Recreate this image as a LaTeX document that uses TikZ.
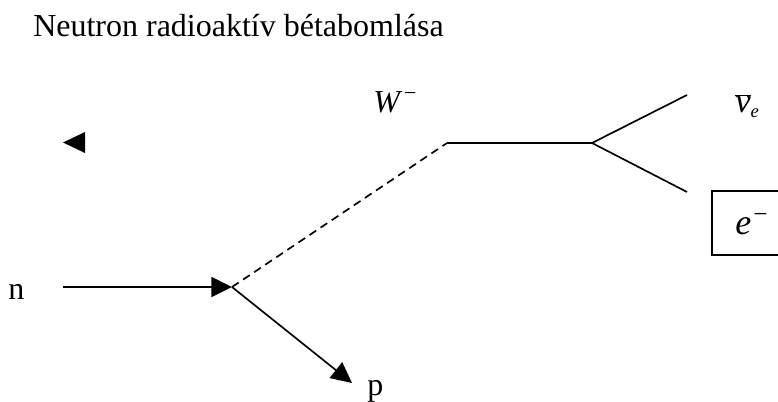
\documentclass[tikz,border=0pt]{standalone}
\usepackage{fontspec}
\setmainfont{Liberation Serif}
\usepackage{tikz}
\usetikzlibrary{arrows.meta, positioning}

\begin{document}
\begin{tikzpicture}[
            x=0.75pt, y=-0.75pt,
            felirat/.style={font=\fontsize{24}{28}\selectfont, inner sep=0pt, anchor=base west},
            reszecske/.style={font=\fontsize{24}{28}\selectfont\itshape, inner sep=0pt, anchor=base west},
            vonal/.style={line width=1.25pt},
            nyil/.style={vonal, -{Triangle[length=15.5pt, width=15pt]}},
            bozon/.style={vonal, dash pattern=on 6pt off 4pt}
        ]
            \useasboundingbox (0,0) rectangle (778,402);

            % Cím
            \node[felirat] (cim) at (33,37) {Neutron radioaktív bétabomlása};

            % Különálló nyílhegy
            \fill (63,142.5) -- (85,132) -- (85,153) -- cycle;

            % --- Csúcspontok ---
            \coordinate (kezd) at (63,287);
            \coordinate (v1) at (232,287);
            \coordinate (w1) at (447,143);
            \coordinate (v2) at (592,143);
            \coordinate (ag1) at (687,95);
            \coordinate (ag2) at (687,192);
            \coordinate (pveg) at (352,383);

            % --- Vonalak ---
            \draw[nyil] (kezd) -- (v1);
            \draw[nyil] (v1) -- (pveg);
            \draw[bozon] (v1) -- (w1);
            \draw[vonal] (w1) -- (v2);
            \draw[vonal] (v2) -- (ag1);
            \draw[vonal] (v2) -- (ag2);

            % --- Részecskék ---
            \node[felirat] (n) at (8,300) {n};
            \node[felirat] (p) at (367,396) {p};
            \node[reszecske] (w) at (373,113) {W\kern3pt\textsuperscript{\upshape −}};
            \node[reszecske, font=\fontsize{26}{30}\selectfont\itshape] (nu) at (735,113) {$\overline{\mbox{\itshape ν}}_{\mbox{\fontsize{14}{16}\selectfont\itshape e}}$};
            \node[draw, line width=1.5pt, minimum width=60pt, minimum height=48pt, anchor=north west] (e) at (711,190) {};
            \node[reszecske, font=\fontsize{27}{31}\selectfont\itshape] (etext) at (735,235) {e\kern1.5pt\textsuperscript{\upshape −}};

        \end{tikzpicture}
\end{document}
